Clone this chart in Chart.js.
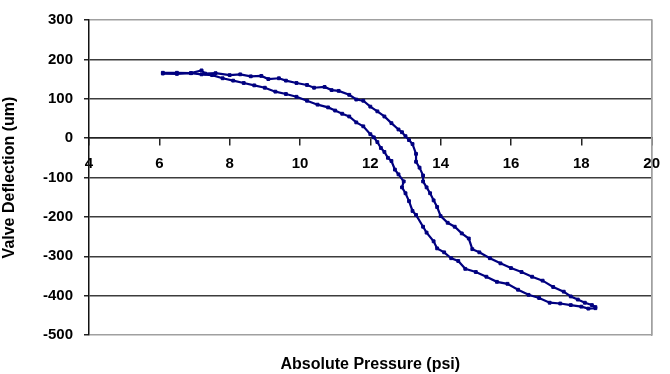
<!DOCTYPE html>
<html>
<head>
<meta charset="utf-8">
<title>Valve Deflection vs Absolute Pressure</title>
<script src="https://cdn.jsdelivr.net/npm/chart.js@4"></script>
<style>
    html, body { margin: 0; padding: 0; background: #fff; }
    #wrap { width: 670px; height: 374px; }
</style>
</head>
<body>
<div id="wrap"><canvas id="deflectionChart" width="670" height="374"></canvas></div>
<script>
/* DATA */
const xTicks = [4, 6, 8, 10, 12, 14, 16, 18, 20];
const yTicks = [300, 200, 100, 0, -100, -200, -300, -400, -500];

// outer branch (upper at low pressure, right-hand in the middle)
const loadPressure = [6.1, 6.5, 6.9, 7.2, 7.3, 7.6, 8.0, 8.3, 8.6, 8.9, 9.1, 9.4, 9.6, 9.9, 10.2, 10.4, 10.7, 10.9, 11.1, 11.4,
    11.6, 11.8, 12.0, 12.2, 12.4, 12.6, 12.8, 12.9, 13.0, 13.1, 13.2, 13.3, 13.3, 13.4, 13.5, 13.5, 13.6, 13.7, 13.8, 13.9,
    14.0, 14.2, 14.4, 14.6, 14.8, 14.9, 15.1, 15.4, 15.7, 16.0, 16.3, 16.6, 16.9, 17.2, 17.5, 17.7, 17.9, 18.1, 18.3, 18.4];
const loadDeflection = [166, 166, 165, 172, 164, 165, 160, 162, 157, 158, 150, 152, 146, 140, 135, 128, 130, 122, 120, 110,
    98, 95, 80, 68, 55, 38, 22, 15, 5, -5, -15, -40, -60, -75, -95, -110, -125, -140, -158, -175,
    -198, -215, -225, -242, -255, -282, -290, -305, -318, -330, -340, -352, -362, -378, -390, -402, -410, -418, -424, -429];

// inner branch (lower at low pressure, left-hand in the middle)
const unloadPressure = [18.4, 18.2, 18.0, 17.7, 17.4, 17.1, 16.8, 16.5, 16.2, 15.9, 15.6, 15.3, 15.0, 14.7, 14.5, 14.3, 14.1, 13.9, 13.8, 13.6,
    13.5, 13.3, 13.2, 13.1, 13.0, 12.9, 12.95, 12.8, 12.7, 12.6, 12.5, 12.4, 12.3, 12.2, 12.1, 12.0, 11.8, 11.6, 11.4, 11.2,
    11.0, 10.8, 10.5, 10.2, 9.9, 9.6, 9.3, 9.0, 8.7, 8.4, 8.1, 7.8, 7.5, 7.2, 6.9, 6.5, 6.1];
const unloadDeflection = [-432, -433, -428, -424, -420, -418, -406, -398, -385, -370, -365, -352, -340, -332, -312, -305, -290, -280, -262, -240,
    -225, -195, -185, -160, -140, -125, -110, -92, -80, -58, -50, -35, -25, -10, 2, 10, 30, 40, 55, 62,
    70, 78, 85, 95, 105, 112, 118, 128, 134, 140, 146, 152, 160, 162, 165, 163, 164];

const NAVY = "#000080";
const FONT = "'Liberation Sans', Arial, sans-serif";

document.addEventListener("DOMContentLoaded", () => {
    initDeflectionChart();
});

function toPoints(xs, ys) {
    return xs.map((x, i) => ({ x: x, y: ys[i] }));
}

/* SCATTER WITH LINES – hysteresis loop */
function initDeflectionChart() {
    const canvas = document.getElementById("deflectionChart");
    if (!canvas || typeof Chart === "undefined") return;

    const seriesStyle = {
        showLine: true,
        borderColor: NAVY,
        backgroundColor: NAVY,
        borderWidth: 2.2,
        pointRadius: 2,
        pointStyle: "rect",
        pointBorderWidth: 1,
        tension: 0
    };

    new Chart(canvas.getContext("2d"), {
        type: "scatter",
        data: {
            datasets: [
                Object.assign({ label: "Loading", data: toPoints(loadPressure, loadDeflection) }, seriesStyle),
                Object.assign({ label: "Unloading", data: toPoints(unloadPressure, unloadDeflection) }, seriesStyle)
            ]
        },
        options: {
            responsive: false,
            animation: false,
            layout: { padding: { top: 19, right: 9, left: 0, bottom: 0 } },
            plugins: {
                legend: { display: false },
                tooltip: { enabled: false }
            },
            scales: {
                x: {
                    type: "linear",
                    min: 4,
                    max: 20,
                    position: { y: 0 },
                    afterBuildTicks: axis => { axis.ticks = xTicks.map(v => ({ value: v })); },
                    grid: {
                        color: ctx => (ctx.tick && ctx.tick.value === 20 ? "#a0a0a0" : "rgba(0,0,0,0)"),
                        tickColor: "#222",
                        tickLength: 7,
                        lineWidth: 1.5
                    },
                    border: { display: true, color: "#222", width: 1.5 },
                    ticks: {
                        color: "#000",
                        padding: 10,
                        maxRotation: 0,
                        font: { family: FONT, size: 15, weight: "bold" }
                    }
                },
                xTitle: {
                    type: "linear",
                    axis: "x",
                    position: "bottom",
                    min: 4,
                    max: 20,
                    grid: { display: false },
                    border: { display: false },
                    ticks: { display: false },
                    title: {
                        display: true,
                        text: "Absolute Pressure (psi)",
                        color: "#000",
                        padding: { top: 21, bottom: 0 },
                        font: { family: FONT, size: 16, weight: "bold" }
                    },
                    afterFit: axis => { axis.height = 39; }
                },
                y: {
                    type: "linear",
                    min: -500,
                    max: 300,
                    afterBuildTicks: axis => { axis.ticks = yTicks.map(v => ({ value: v })); },
                    grid: {
                        color: ctx => {
                            const v = ctx.tick && ctx.tick.value;
                            return v === 300 || v === -500 ? "#a0a0a0" : "#3c3c3c";
                        },
                        tickColor: "#222",
                        tickLength: 5,
                        lineWidth: 1.5
                    },
                    border: { display: true, color: "#111", width: 1.5 },
                    ticks: {
                        color: "#000",
                        padding: 11,
                        font: { family: FONT, size: 15, weight: "bold" }
                    },
                    title: {
                        display: true,
                        text: "Valve Deflection (um)",
                        color: "#000",
                        padding: { top: 0, bottom: 0 },
                        font: { family: FONT, size: 16, weight: "bold" }
                    },
                    afterFit: axis => { axis.width = 89; }
                },
                yRight: {
                    type: "linear",
                    position: "right",
                    min: -500,
                    max: 300,
                    grid: { display: false },
                    ticks: { display: false },
                    border: { display: true, color: "#a0a0a0", width: 1.5 },
                    afterFit: axis => { axis.width = 0; }
                }
            }
        }
    });
}
</script>
</body>
</html>
